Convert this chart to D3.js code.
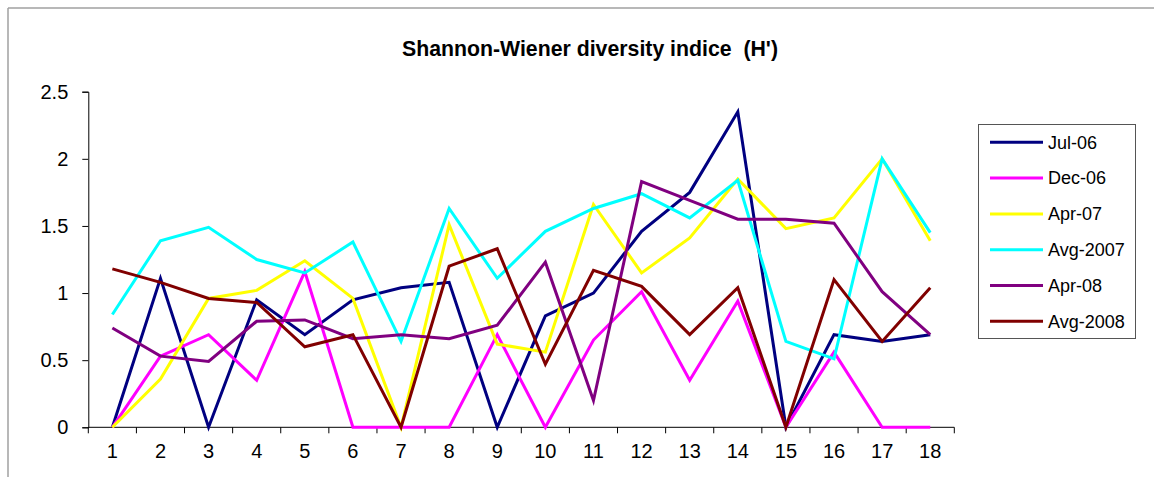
<!DOCTYPE html>
<html>
<head>
<meta charset="utf-8">
<script src="https://cdn.jsdelivr.net/npm/d3@7"></script>
<style>
  html, body { margin: 0; padding: 0; background: #fff; }
  svg { display: block; font-family: "Liberation Sans", Arial, sans-serif; }
  .title { white-space: pre; }
</style>
</head>
<body>
<svg id="chart" width="1154" height="477"></svg>
<script>
// Sampling stations 1..18
const stations = [1, 2, 3, 4, 5, 6, 7, 8, 9, 10, 11, 12, 13, 14, 15, 16, 17, 18];

// Shannon-Wiener index H' per survey
const jul06   = [0, 1.11, 0, 0.95, 0.69, 0.95, 1.04, 1.08, 0, 0.83, 1.00, 1.46, 1.75, 2.35, 0, 0.69, 0.64, 0.69];
const dec06   = [0, 0.53, 0.69, 0.35, 1.16, 0, 0, 0, 0.69, 0, 0.65, 1.01, 0.35, 0.94, 0, 0.56, 0, 0];
const apr07   = [0, 0.36, 0.96, 1.02, 1.24, 0.96, 0, 1.51, 0.62, 0.56, 1.66, 1.15, 1.41, 1.85, 1.48, 1.56, 2.00, 1.39];
const avg2007 = [0.84, 1.39, 1.49, 1.25, 1.15, 1.38, 0.64, 1.63, 1.11, 1.46, 1.63, 1.74, 1.56, 1.84, 0.64, 0.51, 2.00, 1.45];
const apr08   = [0.74, 0.53, 0.49, 0.79, 0.80, 0.66, 0.69, 0.66, 0.76, 1.23, 0.20, 1.83, 1.69, 1.55, 1.55, 1.52, 1.01, 0.69];
const avg2008 = [1.18, 1.08, 0.96, 0.93, 0.60, 0.69, 0, 1.20, 1.33, 0.47, 1.17, 1.05, 0.69, 1.04, 0, 1.10, 0.64, 1.04];

const seriesNames = ["Jul-06", "Dec-06", "Apr-07", "Avg-2007", "Apr-08", "Avg-2008"];
const seriesValues = [jul06, dec06, apr07, avg2007, apr08, avg2008];
const seriesColors = ["#000080", "#FF00FF", "#FFFF00", "#00FFFF", "#800080", "#800000"];

const yTicks = [0, 0.5, 1, 1.5, 2, 2.5];
const title = "Shannon-Wiener diversity indice  (H')";

const svg = d3.select("#chart");

// outer frame (top and left edges visible)
svg.append("line").attr("x1", 8).attr("y1", 8).attr("x2", 1154).attr("y2", 8)
  .attr("stroke", "#a0a0a0").attr("stroke-width", 1.5);
svg.append("line").attr("x1", 8).attr("y1", 8).attr("x2", 8).attr("y2", 477)
  .attr("stroke", "#a0a0a0").attr("stroke-width", 1.5);

// title
svg.append("text")
  .attr("class", "title")
  .attr("x", 590).attr("y", 55.5)
  .attr("text-anchor", "middle")
  .attr("font-weight", "bold")
  .attr("font-size", 22)
  .attr("textLength", 376)
  .attr("lengthAdjust", "spacingAndGlyphs")
  .attr("fill", "#000")
  .text(title);

const plot = { left: 88.3, right: 954.3, top: 91.7, bottom: 427.3 };

const x = d3.scaleBand().domain(stations).range([plot.left, plot.right]);
const y = d3.scaleLinear().domain([0, 2.5]).range([plot.bottom, plot.top]);

// y axis
const yAxis = d3.axisLeft(y).tickValues(yTicks).tickSize(6).tickPadding(14)
  .tickFormat(d => String(d));
const gy = svg.append("g").attr("transform", `translate(${plot.left},0)`).call(yAxis);
gy.select(".domain").attr("stroke", "#000");
gy.selectAll(".tick line").attr("stroke", "#000");
gy.selectAll(".tick text").attr("font-size", 20).attr("fill", "#000")
  .attr("font-family", "Liberation Sans, Arial, sans-serif");

// x axis: labels centred on bands, tick marks on band boundaries
const xAxis = d3.axisBottom(x).tickSize(0).tickPadding(17);
const gx = svg.append("g").attr("transform", `translate(0,${plot.bottom})`).call(xAxis);
gx.select(".domain").remove();
gx.selectAll(".tick text").attr("font-size", 20).attr("fill", "#000")
  .attr("font-family", "Liberation Sans, Arial, sans-serif");

const boundaries = stations.map(s => x(s)).concat([x(stations[stations.length - 1]) + x.bandwidth()]);
svg.append("line")
  .attr("x1", plot.left).attr("x2", plot.right)
  .attr("y1", plot.bottom).attr("y2", plot.bottom)
  .attr("stroke", "#000");
svg.append("g").selectAll("line").data(boundaries).join("line")
  .attr("x1", d => d).attr("x2", d => d)
  .attr("y1", plot.bottom).attr("y2", plot.bottom + 6)
  .attr("stroke", "#000");

// series lines
const line = d3.line()
  .x((d, i) => x(stations[i]) + x.bandwidth() / 2)
  .y(d => y(d));

svg.append("g").selectAll("path").data(seriesValues).join("path")
  .attr("d", d => line(d))
  .attr("fill", "none")
  .attr("stroke", (d, i) => seriesColors[i])
  .attr("stroke-width", 3)
  .attr("stroke-linejoin", "miter");

// legend
const legend = svg.append("g");
legend.append("rect")
  .attr("x", 978.5).attr("y", 124.5).attr("width", 157).attr("height", 214)
  .attr("fill", "#fff").attr("stroke", "#555").attr("stroke-width", 1);

const rows = legend.selectAll("g.row").data(seriesNames).join("g")
  .attr("class", "row")
  .attr("transform", (d, i) => `translate(0,${142.3 + i * 35.8})`);
rows.append("line")
  .attr("x1", 990).attr("x2", 1043).attr("y1", 0).attr("y2", 0)
  .attr("stroke", (d, i) => seriesColors[i]).attr("stroke-width", 3);
rows.append("text")
  .attr("x", 1048).attr("y", 0).attr("dy", "0.35em")
  .attr("font-size", 18).attr("fill", "#000")
  .text(d => d);
</script>
</body>
</html>
